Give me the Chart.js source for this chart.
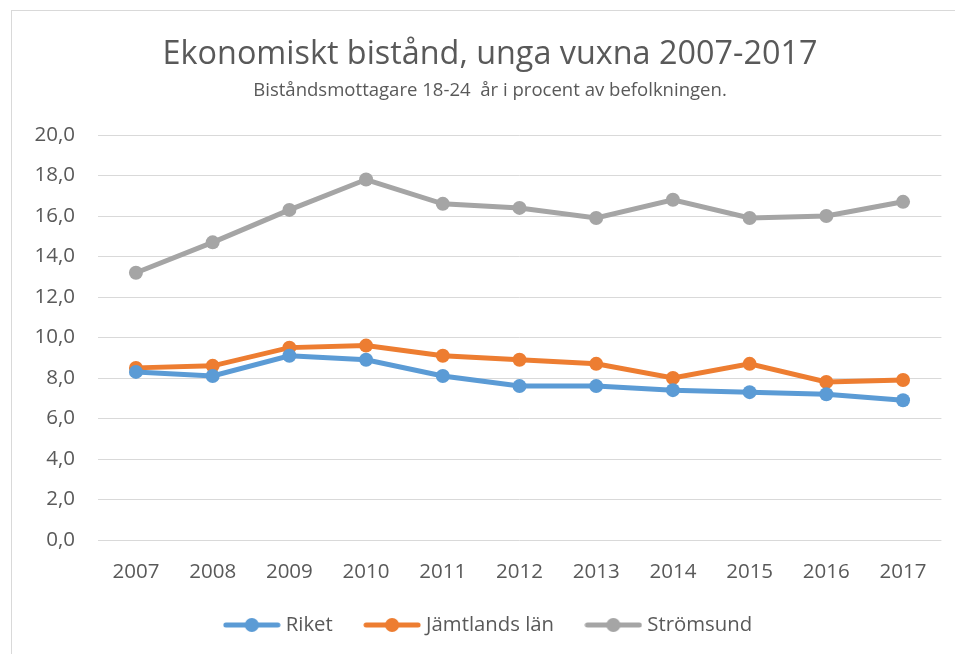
<!DOCTYPE html>
<html>
<head>
<meta charset="utf-8">
<script src="https://cdn.jsdelivr.net/npm/chart.js@4"></script>
<style>
html,body{margin:0;padding:0;overflow:hidden;background:#fff;}
#wrap{position:absolute;left:0;top:0;width:980px;height:654px;}
</style>
</head>
<body>
<div id="wrap"><canvas id="c" width="980" height="654"></canvas></div>
<script>
const years = ['2007','2008','2009','2010','2011','2012','2013','2014','2015','2016','2017'];
const riket = [8.3, 8.1, 9.1, 8.9, 8.1, 7.6, 7.6, 7.4, 7.3, 7.2, 6.9];
const jamtland = [8.5, 8.6, 9.5, 9.6, 9.1, 8.9, 8.7, 8.0, 8.7, 7.8, 7.9];
const stromsund = [13.2, 14.7, 16.3, 17.8, 16.6, 16.4, 15.9, 16.8, 15.9, 16.0, 16.7];
const seriesNames = ['Riket', 'Jämtlands län', 'Strömsund'];
const titleText = 'Ekonomiskt bistånd, unga vuxna 2007-2017';
const subtitleText = 'Biståndsmottagare 18-24  år i procent av befolkningen.';
const yMin = 0, yMax = 20, yStep = 2;

const colors = ['#5B9BD5', '#ED7D31', '#A5A5A5'];
const FAMILY = '"Open Sans", "DejaVu Sans", sans-serif';
const textColor = '#595959';

function fit(text, target) {
  const c = document.createElement('canvas').getContext('2d');
  c.font = '100px ' + FAMILY;
  return 100 * target / c.measureText(text).width;
}
const sTitle = fit(titleText, 655);
const sSub = fit(subtitleText, 474);
const sTick = fit('2007', 47);
const sLeg = fit('Riket', 47);

function legendImg(color) {
  const W = 58, H = 16;
  const cv = document.createElement('canvas');
  cv.width = W; cv.height = H;
  const g = cv.getContext('2d');
  g.strokeStyle = color; g.lineWidth = 5; g.lineCap = 'round';
  g.beginPath(); g.moveTo(3, H/2); g.lineTo(W-3, H/2); g.stroke();
  g.fillStyle = color;
  g.beginPath(); g.arc(W/2, H/2, 7, 0, Math.PI*2); g.fill();
  return cv;
}
const legImgs = colors.map(legendImg);
const legW = 58;
const boxW = legW + 10 - sLeg;
const legPad = 35.5;

const titlePadTop = 54.5 - 0.6 * sTitle;
const titleBottom = 54.5 + 0.6 * sTitle;
const subPadTop = 90.5 - 0.6 * sSub - titleBottom;
const subPadBottom = 135 - (90.5 + 0.6 * sSub);

const legH = sLeg + legPad + 10;
const legCenterOff = legPad + sLeg / 2;
const padBottom = 654 - legH + legCenterOff - 625;
const xAxisH = 654 - padBottom - legH - 540;

const frame = {
  id: 'frame',
  beforeDraw(chart) {
    const ctx = chart.ctx;
    ctx.save();
    ctx.fillStyle = '#fff';
    ctx.fillRect(0, 0, chart.width, chart.height);
    ctx.strokeStyle = '#d9d9d9';
    ctx.lineWidth = 1;
    ctx.strokeRect(11.5, 10.5, 1000, 700);
    ctx.restore();
  }
};

const mk = (label, data, i) => ({
  label, data,
  borderColor: colors[i], backgroundColor: colors[i],
  borderWidth: 5, pointRadius: 7, pointHoverRadius: 7,
  pointBackgroundColor: colors[i], pointBorderColor: colors[i], pointBorderWidth: 0,
  tension: 0, clip: false
});

new Chart(document.getElementById('c'), {
  type: 'line',
  data: {
    labels: years,
    datasets: [mk(seriesNames[0], riket, 0), mk(seriesNames[1], jamtland, 1), mk(seriesNames[2], stromsund, 2)]
  },
  options: {
    responsive: false,
    animation: false,
    devicePixelRatio: 1,
    layout: { padding: { left: 0, right: 0, top: 0, bottom: padBottom } },
    plugins: {
      title: {
        display: true, text: titleText, color: textColor,
        font: { family: FAMILY, size: sTitle, weight: 'normal', lineHeight: 1.2 },
        padding: { top: titlePadTop, bottom: 0 }
      },
      subtitle: {
        display: true, text: subtitleText, color: textColor,
        font: { family: FAMILY, size: sSub, weight: 'normal', lineHeight: 1.2 },
        padding: { top: subPadTop, bottom: subPadBottom }
      },
      legend: {
        display: true, position: 'bottom',
        labels: {
          color: textColor,
          font: { family: FAMILY, size: sLeg },
          usePointStyle: true,
          pointStyleWidth: boxW,
          padding: legPad,
          generateLabels(chart) {
            return chart.data.datasets.map((d, i) => ({
              text: d.label, pointStyle: legImgs[i], fillStyle: colors[i],
              strokeStyle: colors[i], lineWidth: 0, hidden: false, datasetIndex: i, fontColor: textColor
            }));
          }
        }
      },
      tooltip: { enabled: false }
    },
    scales: {
      x: {
        grid: { display: false, drawTicks: false },
        border: { display: false },
        offset: true,
        ticks: { color: textColor, font: { family: FAMILY, size: sTick }, padding: 20, maxRotation: 0 },
        afterFit(s) { s.height = xAxisH; }
      },
      y: {
        min: yMin, max: yMax,
        grid: { color: '#d9d9d9', lineWidth: 1, drawTicks: false },
        border: { display: false },
        ticks: {
          stepSize: yStep, color: textColor, font: { family: FAMILY, size: sTick }, padding: 22.6,
          callback: v => v.toFixed(1).replace('.', ',')
        },
        afterFit(s) { s.width = 97.6; }
      },
      y2: {
        position: 'right', display: true,
        grid: { display: false, drawTicks: false }, border: { display: false },
        ticks: { display: false },
        afterFit(s) { s.width = 980 - 941.4; }
      }
    }
  },
  plugins: [frame]
});
</script>
</body>
</html>
